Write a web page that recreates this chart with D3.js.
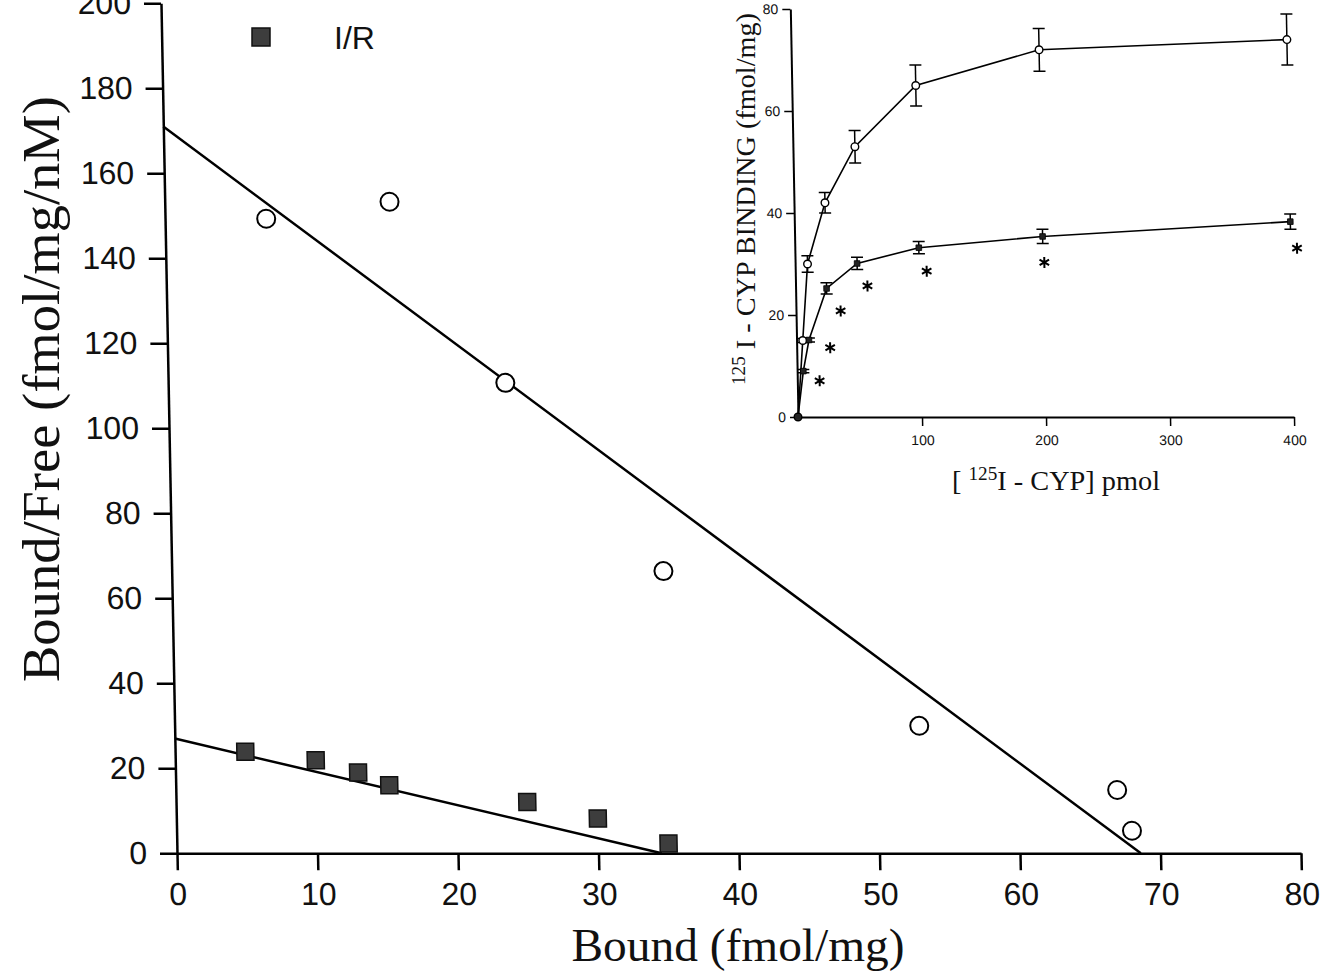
<!DOCTYPE html>
<html>
<head>
<meta charset="utf-8">
<script src="https://cdn.jsdelivr.net/npm/d3@7"></script>
<style>
  html, body { margin: 0; padding: 0; background: #fff; }
  svg { display: block; }
  .sans { font-family: "Liberation Sans", Arial, sans-serif; }
  .serif { font-family: "Liberation Serif", "Times New Roman", serif; }
</style>
</head>
<body>
<svg id="chart" width="1324" height="973"></svg>
<script>
// ---- Scatchard plot: Bound vs Bound/Free ----
const boundCtrl = [7.2, 16.0, 24.0, 35.0, 53.0, 67.0, 68.0];
const ratioCtrl = [149.3, 153.3, 110.7, 66.4, 30.0, 14.9, 5.3];
const boundIR   = [5, 10, 13, 15.2, 25, 30, 35];
const ratioIR   = [23.9, 21.9, 19.0, 16.0, 12.1, 8.2, 2.3];
// regression line end points [bound, bound/free]
const fitCtrl = [[0, 171], [68.6, 0]];
const fitIR   = [[0, 27], [34.5, 0]];
const mainXTicks = [0, 10, 20, 30, 40, 50, 60, 70, 80];
const mainYTicks = [0, 20, 40, 60, 80, 100, 120, 140, 160, 180, 200];
const legendLabels = ["I/R"];

// ---- Inset: saturation binding ----
const conc     = [0, 5, 10, 25, 50, 100, 200, 400];
const bindCtrl = [0, 15, 30, 42, 53, 65, 72, 74];
const semCtrl  = [0, 0.4, 1.6, 2, 3.2, 4, 4.2, 5];
const bindIR   = [0, 9, 15.1, 25.2, 30.1, 33.2, 35.4, 38.3];
const semIR    = [0, 0.3, 0.4, 1.1, 1.2, 1.2, 1.4, 1.5];
// significance markers (concentration, binding)
const starConc = [18, 27, 36, 58, 106, 201, 405];
const starBind = [7.1, 13.6, 20.8, 25.7, 28.6, 30.3, 33.1];
const insetXTicks = [100, 200, 300, 400];
const insetYTicks = [0, 20, 40, 60, 80];

const svg = d3.select("#chart");
const SHEAR = 1.08; // degrees, slight lean of the vertical axes

// ================= main plot =================
const x = d3.scaleLinear().domain([0, 80]).range([177, 1301]);
const y = d3.scaleLinear().domain([0, 200]).range([853.3, 3.3]);
const y0 = y(0);

const main = svg.append("g")
  .attr("transform", `translate(0,${y0}) skewX(${SHEAR}) translate(0,${-y0})`);

const xAxis = main.append("g")
  .attr("transform", `translate(0,${y0})`)
  .call(d3.axisBottom(x).tickValues(mainXTicks).tickSize(17).tickSizeOuter(0).tickPadding(12));
const yAxis = main.append("g")
  .attr("transform", `translate(${x(0)},0)`)
  .call(d3.axisLeft(y).tickValues(mainYTicks).tickSize(17).tickSizeOuter(0).tickPadding(13));

[xAxis, yAxis].forEach(a => {
  a.selectAll("path.domain").attr("stroke", "#000").attr("stroke-width", 2.5);
  a.selectAll(".tick line").attr("stroke", "#000").attr("stroke-width", 2.5);
  a.selectAll(".tick text").attr("class", "sans").attr("font-size", 32).attr("fill", "#111");
});

const line = d3.line().x(d => x(d[0])).y(d => y(d[1]));
main.append("path").attr("d", line(fitCtrl))
  .attr("fill", "none").attr("stroke", "#000").attr("stroke-width", 2.5);
main.append("path").attr("d", line(fitIR))
  .attr("fill", "none").attr("stroke", "#000").attr("stroke-width", 2.5);

main.selectAll("circle.ctrl").data(d3.range(boundCtrl.length)).join("circle")
  .attr("class", "ctrl")
  .attr("cx", i => x(boundCtrl[i])).attr("cy", i => y(ratioCtrl[i])).attr("r", 9)
  .attr("fill", "#fff").attr("stroke", "#000").attr("stroke-width", 2);

const SQ = 17;
main.selectAll("rect.ir").data(d3.range(boundIR.length)).join("rect")
  .attr("class", "ir")
  .attr("x", i => x(boundIR[i]) - SQ / 2).attr("y", i => y(ratioIR[i]) - SQ / 2)
  .attr("width", SQ).attr("height", SQ)
  .attr("fill", "#3d3d3d").attr("stroke", "#111").attr("stroke-width", 1.5);

// legend
const leg = svg.append("g");
leg.append("rect").attr("x", 252).attr("y", 28).attr("width", 18).attr("height", 18)
  .attr("fill", "#3d3d3d").attr("stroke", "#111").attr("stroke-width", 1.5);
leg.append("text").attr("class", "sans").attr("x", 334).attr("y", 49)
  .attr("font-size", 32).attr("fill", "#111").text(legendLabels[0]);

// axis titles
svg.append("text").attr("class", "serif")
  .attr("transform", "translate(59,389) rotate(-90)")
  .attr("text-anchor", "middle").attr("font-size", 53).attr("fill", "#111")
  .attr("textLength", 586).attr("lengthAdjust", "spacingAndGlyphs")
  .text("Bound/Free (fmol/mg/nM)");
svg.append("text").attr("class", "serif")
  .attr("x", 738).attr("y", 961)
  .attr("text-anchor", "middle").attr("font-size", 47).attr("fill", "#111")
  .attr("textLength", 333).attr("lengthAdjust", "spacingAndGlyphs")
  .text("Bound (fmol/mg)");

// ================= inset =================
const ix = d3.scaleLinear().domain([0, 400]).range([798, 1294]);
const iy = d3.scaleLinear().domain([0, 80]).range([417, 9]);
const iy0 = iy(0);

const inset = svg.append("g")
  .attr("transform", `translate(0,${iy0}) skewX(${SHEAR}) translate(0,${-iy0})`);

const ixAxis = inset.append("g")
  .attr("transform", `translate(0,${iy0})`)
  .call(d3.axisBottom(ix).tickValues(insetXTicks).tickSize(9).tickSizeOuter(0).tickPadding(9));
const iyAxis = inset.append("g")
  .attr("transform", `translate(${ix(0)},0)`)
  .call(d3.axisLeft(iy).tickValues(insetYTicks).tickSize(8).tickSizeOuter(0).tickPadding(4));

[ixAxis, iyAxis].forEach(a => {
  a.selectAll("path.domain").attr("stroke", "#000").attr("stroke-width", 2);
  a.selectAll(".tick line").attr("stroke", "#000").attr("stroke-width", 1.5);
  a.selectAll(".tick text").attr("class", "sans").attr("font-size", 14).attr("fill", "#111");
});

function seriesLine(vals) {
  return d3.line().x((d, i) => ix(conc[i])).y(d => iy(d))(vals);
}
inset.append("path").attr("d", seriesLine(bindCtrl))
  .attr("fill", "none").attr("stroke", "#000").attr("stroke-width", 1.6);
inset.append("path").attr("d", seriesLine(bindIR))
  .attr("fill", "none").attr("stroke", "#000").attr("stroke-width", 1.6);

// error bars
function errorBars(vals, sems, cls) {
  const g = inset.append("g").attr("class", cls);
  const idx = d3.range(1, conc.length);
  g.selectAll("line.v").data(idx).join("line").attr("class", "v")
    .attr("x1", i => ix(conc[i])).attr("x2", i => ix(conc[i]))
    .attr("y1", i => iy(vals[i] - sems[i])).attr("y2", i => iy(vals[i] + sems[i]));
  g.selectAll("line.hi").data(idx).join("line").attr("class", "hi")
    .attr("x1", i => ix(conc[i]) - 6).attr("x2", i => ix(conc[i]) + 6)
    .attr("y1", i => iy(vals[i] + sems[i])).attr("y2", i => iy(vals[i] + sems[i]));
  g.selectAll("line.lo").data(idx).join("line").attr("class", "lo")
    .attr("x1", i => ix(conc[i]) - 6).attr("x2", i => ix(conc[i]) + 6)
    .attr("y1", i => iy(vals[i] - sems[i])).attr("y2", i => iy(vals[i] - sems[i]));
  g.selectAll("line").attr("stroke", "#000").attr("stroke-width", 1.5);
}
errorBars(bindCtrl, semCtrl, "err-ctrl");
errorBars(bindIR, semIR, "err-ir");

inset.selectAll("circle.ictrl").data(d3.range(conc.length)).join("circle")
  .attr("class", "ictrl")
  .attr("cx", i => ix(conc[i])).attr("cy", i => iy(bindCtrl[i])).attr("r", 3.8)
  .attr("fill", "#fff").attr("stroke", "#000").attr("stroke-width", 1.4);
inset.selectAll("rect.iir").data(d3.range(conc.length)).join("rect")
  .attr("class", "iir")
  .attr("x", i => ix(conc[i]) - 2.8).attr("y", i => iy(bindIR[i]) - 2.8)
  .attr("width", 5.6).attr("height", 5.6)
  .attr("fill", "#222").attr("stroke", "#000").attr("stroke-width", 0.8);

// significance asterisks
const star = d3.symbol().type(d3.symbolAsterisk).size(85);
inset.selectAll("path.star").data(d3.range(starConc.length)).join("path")
  .attr("class", "star")
  .attr("transform", i => `translate(${ix(starConc[i])},${iy(starBind[i])})`)
  .attr("d", star)
  .attr("fill", "none").attr("stroke", "#000").attr("stroke-width", 2);

// inset axis titles
const iyt = svg.append("text").attr("class", "serif")
  .attr("transform", "translate(755,199) rotate(-90)")
  .attr("text-anchor", "middle").attr("font-size", 28).attr("fill", "#111")
  .attr("textLength", 372).attr("lengthAdjust", "spacingAndGlyphs");
iyt.append("tspan").attr("font-size", 19).attr("dy", -10).text("125");
iyt.append("tspan").attr("dy", 10).text(" I - CYP BINDING (fmol/mg)");

const ixt = svg.append("text").attr("class", "serif")
  .attr("x", 1056).attr("y", 490)
  .attr("text-anchor", "middle").attr("font-size", 28).attr("fill", "#111")
  .attr("textLength", 208).attr("lengthAdjust", "spacingAndGlyphs");
ixt.append("tspan").text("[ ");
ixt.append("tspan").attr("font-size", 19).attr("dy", -10).text("125");
ixt.append("tspan").attr("dy", 10).text("I - CYP] pmol");
</script>
</body>
</html>
